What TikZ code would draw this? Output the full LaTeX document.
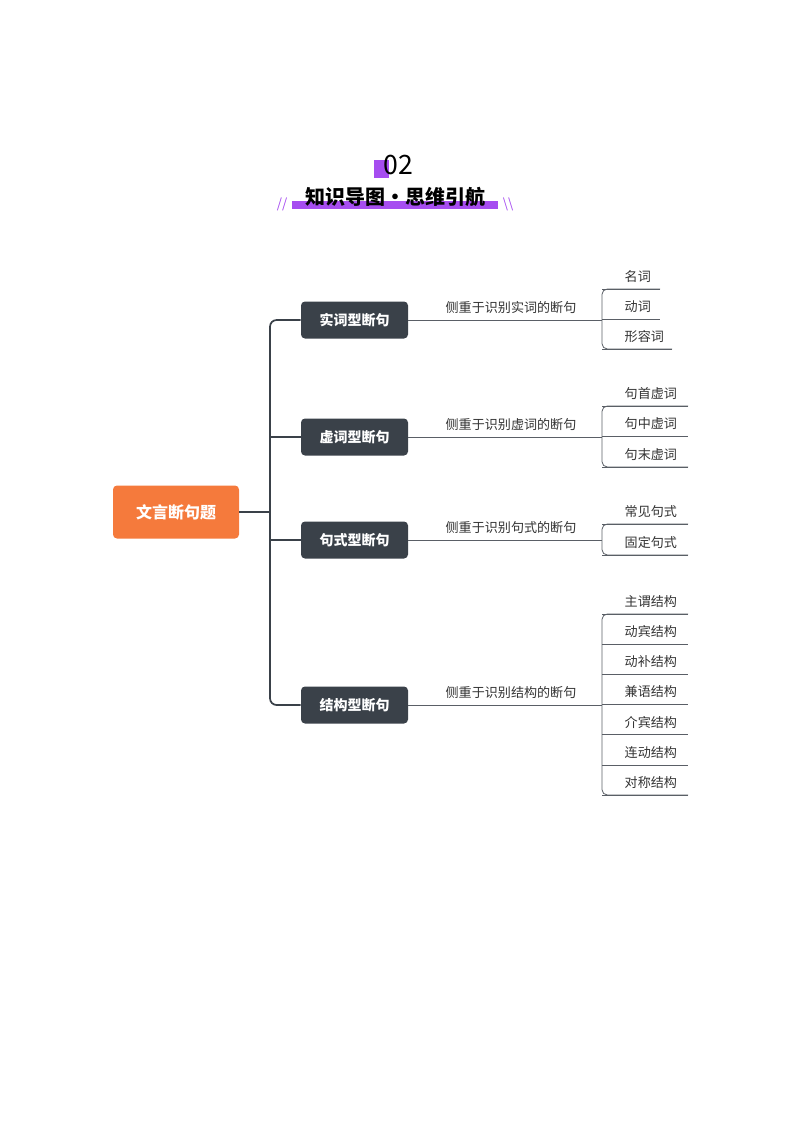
\documentclass[tikz,border=0pt]{standalone}
\usepackage{fontspec}
\setmainfont{Noto Sans CJK SC}
\newfontfamily\cjkb{Noto Sans CJK SC Bold}
\definecolor{dk}{HTML}{3A4149}
\definecolor{org}{HTML}{F57A3C}
\definecolor{pur}{HTML}{A64DF0}
\definecolor{ln}{HTML}{5A5F66}
\begin{document}
\begin{tikzpicture}[x=0.75pt,y=-0.75pt,
  boxst/.style={fill=dk,rounded corners=3pt,minimum width=80.25pt,minimum height=27.75pt,text=white,font=\bfseries\fontsize{10.5pt}{12pt}\selectfont},
  leaf/.style={font=\fontsize{9.8pt}{12pt}\selectfont,text=black!80,anchor=west},
  lbl/.style={font=\fontsize{9.8pt}{12pt}\selectfont,text=black!80},
  trunk/.style={draw=dk,line width=1.3pt,rounded corners=5pt},
  br/.style={draw=ln,line width=0.6pt,rounded corners=4pt}]
\useasboundingbox (0,0) rectangle (800,1132);
% title
\fill[pur] (374,160) rectangle (389,178);
\node[font=\fontsize{20pt}{22pt}\selectfont] (num) at (398,165) {02};
\fill[pur] (292,201) rectangle (498,209);
\node[font=\bfseries\fontsize{15pt}{18pt}\selectfont] (ttl) at (395,197) {知识导图·思维引航};
\node[text=pur,font=\fontsize{10pt}{12pt}\selectfont] (sl) at (282,204) {//};
\node[text=pur,font=\fontsize{10pt}{12pt}\selectfont] (sr) at (508,204) {\textbackslash\textbackslash};
% root
\node[fill=org,rounded corners=3pt,minimum width=94.5pt,minimum height=39.75pt,text=white,font=\bfseries\fontsize{12pt}{14pt}\selectfont] (root) at (176,512) {文言断句题};
\node[boxst] (b1) at (354.5,320) {实词型断句};
\node[boxst] (b2) at (354.5,437) {虚词型断句};
\node[boxst] (b3) at (354.5,540) {句式型断句};
\node[boxst] (b4) at (354.5,705) {结构型断句};
\coordinate (j) at (270,512);
\draw[trunk] (root.east) -- (j);
\draw[trunk] (b1.west) -- (270,320) -- (270,705) -- (b4.west);
\draw[trunk] (b2.west) -- (270,437);
\draw[trunk] (b3.west) -- (270,540);
% labels and main lines
\foreach \b/\y/\t in {b1/320/实词,b2/437/虚词,b3/540/句式,b4/705/结构}{
  \draw[ln,line width=0.6pt] (\b.east) -- (602,\y);
  \node[lbl] at (511,\y-12) {侧重于识别\t 的断句};
}
% leaves: name text y, underline end
\newcommand\leafs[2]{%
  \foreach \t/\yy/\e in {#2}{
    \node[leaf] at (620,\yy) {\t};
    \draw[ln,line width=0.6pt] (602,\yy+12) -- (\e,\yy+12);
  }}
\leafs{}{名词/277/660,动词/307/660,形容词/337/672}
\draw[br] (660,289) -- (602,289) -- (602,349) -- (672,349);
\leafs{}{句首虚词/394/688,句中虚词/424/688,句末虚词/455/688}
\draw[br] (688,406) -- (602,406) -- (602,467) -- (688,467);
\leafs{}{常见句式/512/688,固定句式/543/688}
\draw[br] (688,524) -- (602,524) -- (602,555) -- (688,555);
\leafs{}{主谓结构/602/688,动宾结构/632/688,动补结构/662/688,兼语结构/692/688,介宾结构/722/688,连动结构/753/688,对称结构/783/688}
\draw[br] (688,614) -- (602,614) -- (602,795) -- (688,795);
\end{tikzpicture}
\end{document}
